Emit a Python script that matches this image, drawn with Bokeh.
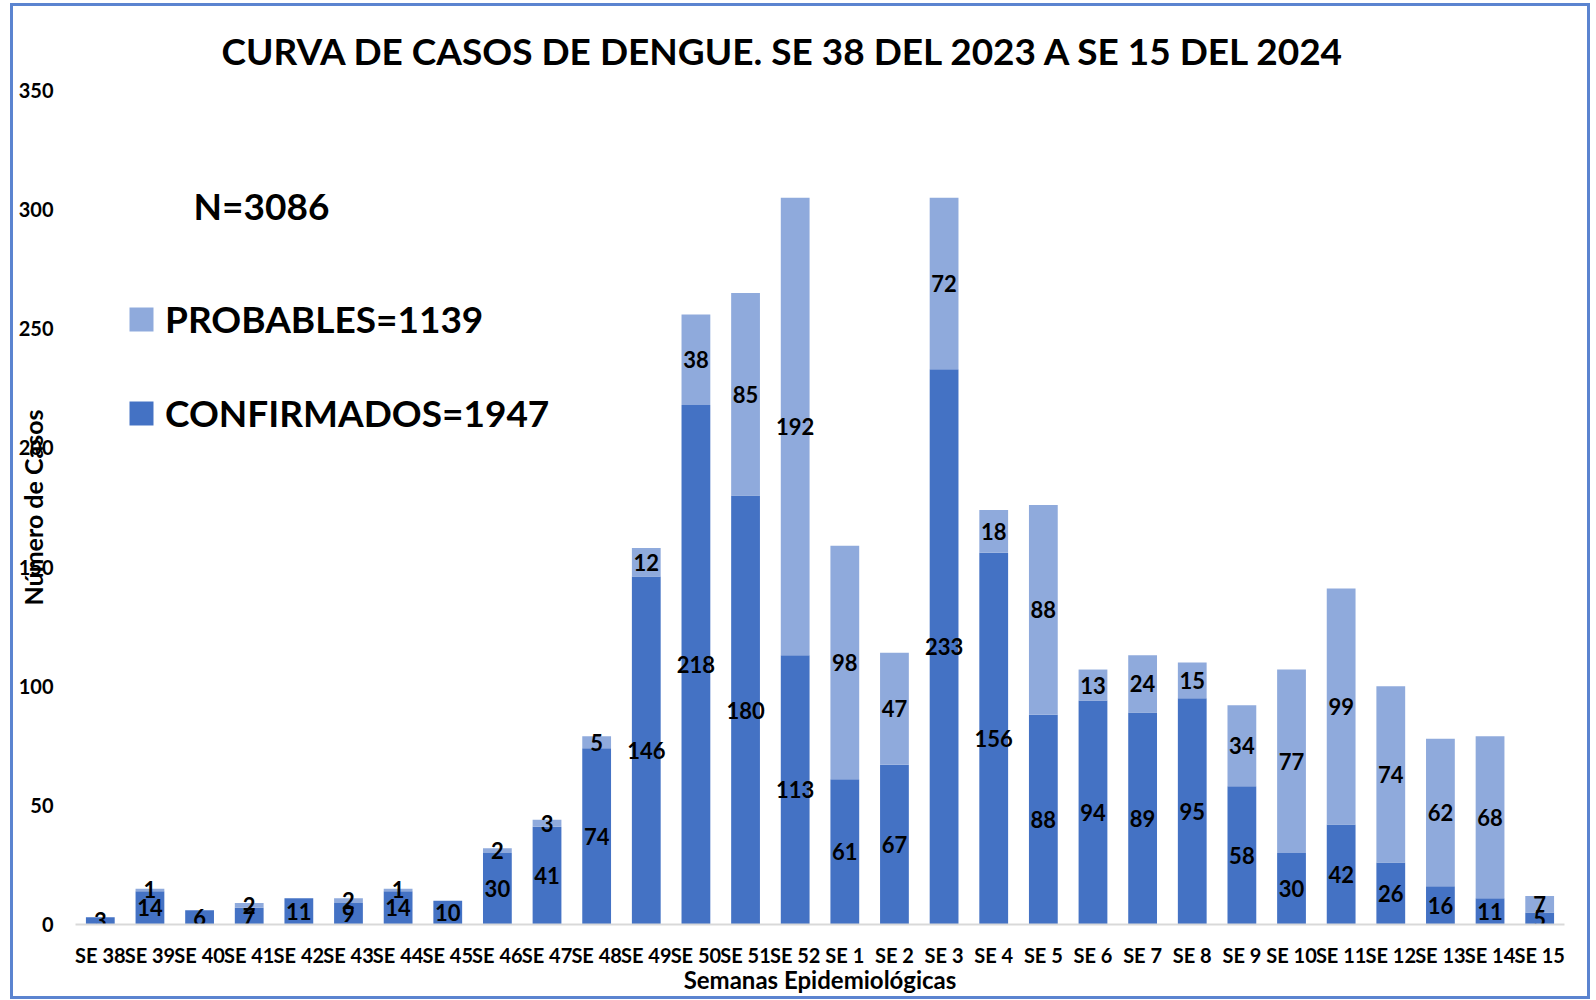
from bokeh.plotting import figure
from bokeh.models import (ColumnDataSource, FactorRange, Range1d, FixedTicker, Legend,
                          LegendItem, Label)
from bokeh.core.properties import value
from bokeh.embed import file_html
from bokeh.resources import INLINE

weeks = ["SE 38", "SE 39", "SE 40", "SE 41", "SE 42", "SE 43", "SE 44", "SE 45", "SE 46", "SE 47",
         "SE 48", "SE 49", "SE 50", "SE 51", "SE 52", "SE 1", "SE 2", "SE 3", "SE 4", "SE 5",
         "SE 6", "SE 7", "SE 8", "SE 9", "SE 10", "SE 11", "SE 12", "SE 13", "SE 14", "SE 15"]
confirmados = [3, 14, 6, 7, 11, 9, 14, 10, 30, 41, 74, 146, 218, 180, 113, 61, 67, 233, 156, 88,
               94, 89, 95, 58, 30, 42, 26, 16, 11, 5]
probables = [0, 1, 0, 2, 0, 2, 1, 0, 2, 3, 5, 12, 38, 85, 192, 98, 47, 72, 18, 88,
             13, 24, 15, 34, 77, 99, 74, 62, 68, 7]
y_ticks = [0, 50, 100, 150, 200, 250, 300, 350]

title_text = "CURVA DE CASOS DE DENGUE. SE 38 DEL 2023 A SE 15 DEL 2024"
n_text = "N=3086"
prob_label = "PROBABLES=1139"
conf_label = "CONFIRMADOS=1947"

C_CONF = "#4472C4"
C_PROB = "#8FAADC"
FONT = "Lato"

src = ColumnDataSource(dict(week=weeks, conf=confirmados, prob=probables))

p = figure(x_range=FactorRange(*weeks), y_range=Range1d(0, 350),
           width=1580, height=996, output_backend="svg", toolbar_location=None,
           min_border_left=62, min_border_right=29, min_border_top=84, min_border_bottom=78,
           title=title_text)
p.styles = {"border": "3px solid #5B84D0", "margin-left": "10px", "margin-top": "3px"}

rs = p.vbar_stack(["conf", "prob"], x="week", width=0.58, color=[C_CONF, C_PROB],
                  line_color=None, source=src)
r_conf, r_prob = rs

# data labels
lx, ly, lt = [], [], []
for w, c, pr in zip(weeks, confirmados, probables):
    if c > 0:
        lx.append(w); ly.append(c / 2); lt.append(str(c))
    if pr > 0:
        lx.append(w); ly.append(c + pr / 2); lt.append(str(pr))
lsrc = ColumnDataSource(dict(x=lx, y=ly, t=lt))
p.text(x="x", y="y", text="t", source=lsrc, text_align="center", text_baseline="middle",
       text_font=value(FONT), text_font_style="bold", text_font_size="22px", text_color="black")

# title
p.title.text_font = FONT
p.title.text_font_size = "37px"
p.title.text_font_style = "bold"
p.title.text_color = "black"
p.title.align = "left"
p.title.offset = 146
p.title.standoff = 36

# axes
p.xgrid.grid_line_color = None
p.ygrid.grid_line_color = None
p.outline_line_color = None
p.background_fill_color = "white"
p.border_fill_color = "white"

p.yaxis.ticker = FixedTicker(ticks=y_ticks)
p.yaxis.axis_line_color = None
p.yaxis.major_tick_line_color = None
p.yaxis.minor_tick_line_color = None
p.yaxis.major_label_standoff = 16
p.yaxis.major_label_text_font = FONT
p.yaxis.major_label_text_font_size = "20px"
p.yaxis.major_label_text_font_style = "bold"
p.yaxis.major_label_text_color = "black"
p.yaxis.axis_label = "Número de Casos"
p.yaxis.axis_label_text_font = FONT
p.yaxis.axis_label_text_font_size = "25px"
p.yaxis.axis_label_text_font_style = "bold"
p.yaxis.axis_label_text_color = "black"
p.yaxis.axis_label_standoff = -32

p.xaxis.axis_line_color = "#D9D9D9"
p.xaxis.axis_line_width = 2
p.xaxis.major_tick_line_color = None
p.xaxis.minor_tick_line_color = None
p.xaxis.major_label_standoff = 12
p.xaxis.major_label_text_font = FONT
p.xaxis.major_label_text_font_size = "20px"
p.xaxis.major_label_text_font_style = "bold"
p.xaxis.major_label_text_color = "black"
p.xaxis.axis_label = "Semanas Epidemiológicas"
p.xaxis.axis_label_text_font = FONT
p.xaxis.axis_label_text_font_size = "24px"
p.xaxis.axis_label_text_font_style = "bold"
p.xaxis.axis_label_text_color = "black"
p.xaxis.axis_label_standoff = -5

legend = Legend(items=[LegendItem(label=prob_label, renderers=[r_prob]),
                       LegendItem(label=conf_label, renderers=[r_conf])],
                location=(51, 489), label_text_font=FONT, label_text_font_size="37px",
                label_text_font_style="bold", label_text_color="black",
                glyph_width=30, glyph_height=30, spacing=49, padding=0, margin=0,
                label_standoff=9, border_line_color=None, background_fill_alpha=0)
p.add_layout(legend, "center")

p.add_layout(Label(x=186, y=719, x_units="screen", y_units="screen", text=n_text,
                   text_font=FONT, text_font_size="37px", text_font_style="bold",
                   text_align="center", text_baseline="middle", text_color="black"))

open("out.html", "w").write(file_html(p, INLINE))
